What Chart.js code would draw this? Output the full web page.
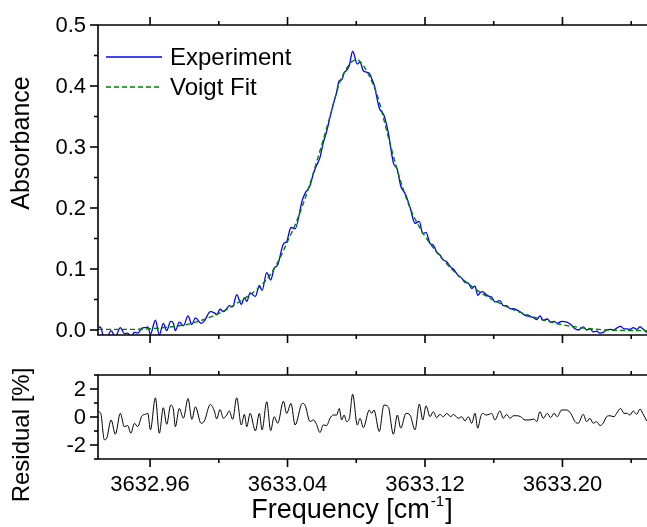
<!DOCTYPE html>
<html>
<head>
<meta charset="utf-8">
<script src="https://cdn.jsdelivr.net/npm/chart.js@4.4.0/dist/chart.umd.min.js"></script>
<style>
  html, body { margin: 0; padding: 0; background: #fff; overflow: hidden; }
  #wrap { position: relative; width: 647px; height: 527px; }
  #wrap canvas { position: absolute; left: 0; top: 0; }
</style>
</head>
<body>
<div id="wrap">
  <canvas id="chart-res" width="647" height="527"></canvas>
  <canvas id="chart-abs" width="647" height="527"></canvas>
</div>
<script>
// Absorption line + Voigt fit (top) and fit residual (bottom).

// ── Axis ranges / ticks ─────────────────────────────────────────────────────
const FREQ_MIN = 3632.9297;
const FREQ_MAX = 3633.2492;
const freqMajor = [3632.96, 3633.04, 3633.12, 3633.20];
const freqMinor = [3633.00, 3633.08, 3633.16, 3633.24];
const absMajor  = [0.0, 0.1, 0.2, 0.3, 0.4, 0.5];
const absMinor  = [0.05, 0.15, 0.25, 0.35, 0.45];
const resMajor  = [-2, 0, 2];
const resMinor  = [-3, -1, 1, 3];

// ── Voigt fit ───────────────────────────────────────────────────────────────
const fitFreq = [
  3632.9297, 3632.9484, 3632.9600, 3632.9716, 3632.9815, 3632.9891, 3632.9967, 3633.0036,
  3633.0083, 3633.0135, 3633.0182, 3633.0228, 3633.0263, 3633.0298, 3633.0333, 3633.0368,
  3633.0403, 3633.0444, 3633.0490, 3633.0531, 3633.0572, 3633.0607, 3633.0647, 3633.0676,
  3633.0705, 3633.0746, 3633.0775, 3633.0799, 3633.0822, 3633.0845, 3633.0880, 3633.0921,
  3633.0956, 3633.0996, 3633.1037, 3633.1072, 3633.1113, 3633.1171, 3633.1229, 3633.1305,
  3633.1404, 3633.1520, 3633.1654, 3633.1793, 3633.1945, 3633.2102, 3633.2259, 3633.2492
];
const fitAbs = [
  0.001, 0.001, 0.002, 0.005, 0.009, 0.015, 0.023, 0.032,
  0.040, 0.049, 0.058, 0.068, 0.078, 0.090, 0.106, 0.125,
  0.147, 0.172, 0.206, 0.240, 0.278, 0.311, 0.350, 0.380,
  0.407, 0.430, 0.440, 0.443, 0.440, 0.432, 0.414, 0.386,
  0.350, 0.306, 0.264, 0.232, 0.200, 0.167, 0.142, 0.115,
  0.087, 0.062, 0.041, 0.025, 0.012, 0.004, 0.000, -0.001
];

// ── Measured spectrum + residual (same frequency samples) ───────────────────
const sampleFreq = [
  3632.9302, 3632.9313, 3632.9334, 3632.9348, 3632.9373, 3632.9398, 3632.9427, 3632.9450, 3632.9470, 3632.9488,
  3632.9509, 3632.9528, 3632.9553, 3632.9573, 3632.9587, 3632.9602, 3632.9631, 3632.9654, 3632.9677, 3632.9697,
  3632.9720, 3632.9736, 3632.9747, 3632.9770, 3632.9794, 3632.9821, 3632.9843, 3632.9864, 3632.9897, 3632.9916,
  3632.9951, 3632.9974, 3632.9988, 3633.0007, 3633.0027, 3633.0046, 3633.0061, 3633.0081, 3633.0104, 3633.0131,
  3633.0149, 3633.0163, 3633.0182, 3633.0213, 3633.0236, 3633.0252, 3633.0279, 3633.0302, 3633.0322, 3633.0343,
  3633.0376, 3633.0395, 3633.0420, 3633.0444, 3633.0486, 3633.0502, 3633.0531, 3633.0550, 3633.0566, 3633.0589,
  3633.0608, 3633.0628, 3633.0647, 3633.0667, 3633.0686, 3633.0701, 3633.0715, 3633.0729, 3633.0744, 3633.0760,
  3633.0779, 3633.0806, 3633.0822, 3633.0841, 3633.0876, 3633.0890, 3633.0903, 3633.0934, 3633.0961, 3633.0986,
  3633.1016, 3633.1039, 3633.1059, 3633.1089, 3633.1113, 3633.1142, 3633.1167, 3633.1187, 3633.1206, 3633.1229,
  3633.1248, 3633.1268, 3633.1287, 3633.1307, 3633.1326, 3633.1350, 3633.1365, 3633.1394, 3633.1414, 3633.1433,
  3633.1452, 3633.1472, 3633.1491, 3633.1507, 3633.1524, 3633.1536, 3633.1555, 3633.1574, 3633.1588, 3633.1607,
  3633.1636, 3633.1656, 3633.1675, 3633.1695, 3633.1714, 3633.1734, 3633.1757, 3633.1782, 3633.1811, 3633.1834,
  3633.1850, 3633.1869, 3633.1888, 3633.1912, 3633.1931, 3633.1951, 3633.1970, 3633.1995, 3633.2025, 3633.2048,
  3633.2073, 3633.2092, 3633.2121, 3633.2141, 3633.2160, 3633.2179, 3633.2199, 3633.2218, 3633.2237, 3633.2257,
  3633.2276, 3633.2300, 3633.2315, 3633.2339, 3633.2358, 3633.2374, 3633.2393, 3633.2412, 3633.2432, 3633.2451,
  3633.2467, 3633.2490
];
const expAbs = [
  0.005, 0.004, -0.015, -0.014, -0.001, -0.011, 0.004, -0.006, -0.005, -0.011,
  -0.004, -0.005, 0.003, 0.004, 0.005, -0.007, 0.016, -0.008, 0.011, -0.001,
  0.014, 0.011, -0.001, 0.013, 0.007, 0.023, 0.009, 0.020, 0.011, 0.015,
  0.030, 0.028, 0.025, 0.034, 0.030, 0.035, 0.040, 0.038, 0.058, 0.042,
  0.053, 0.047, 0.061, 0.055, 0.073, 0.065, 0.094, 0.082, 0.101, 0.107,
  0.141, 0.145, 0.168, 0.166, 0.213, 0.224, 0.237, 0.256, 0.268, 0.283,
  0.307, 0.326, 0.349, 0.371, 0.390, 0.409, 0.410, 0.421, 0.426, 0.434,
  0.457, 0.436, 0.439, 0.425, 0.421, 0.412, 0.403, 0.364, 0.352, 0.324,
  0.274, 0.263, 0.236, 0.221, 0.201, 0.175, 0.178, 0.158, 0.160, 0.142,
  0.139, 0.128, 0.123, 0.115, 0.112, 0.103, 0.100, 0.089, 0.085, 0.078,
  0.077, 0.068, 0.072, 0.057, 0.062, 0.063, 0.058, 0.055, 0.054, 0.046,
  0.048, 0.040, 0.040, 0.035, 0.035, 0.033, 0.029, 0.024, 0.022, 0.020,
  0.017, 0.023, 0.016, 0.018, 0.013, 0.014, 0.011, 0.014, 0.013, 0.009,
  0.002, 0.000, 0.005, 0.000, 0.002, -0.003, -0.002, -0.005, -0.004, 0.000,
  0.001, 0.000, 0.003, 0.006, 0.002, 0.002, 0.001, 0.004, 0.001, 0.005,
  0.002, -0.004
];
const residual = [
  0.38, 0.26, -1.63, -1.51, -0.21, -1.23, 0.26, -0.69, -0.61, -1.16,
  -0.45, -0.69, 0.09, 0.19, 0.26, -0.92, 1.37, -1.16, 0.66, -0.52,
  0.85, 0.50, -0.69, 0.61, -0.09, 1.32, -0.17, 0.73, -0.45, -0.28,
  0.90, 0.43, -0.14, 0.54, -0.09, 0.14, 0.43, -0.17, 1.37, -0.57,
  0.19, -0.69, 0.26, -0.99, 0.26, -0.92, 1.09, -0.97, 0.02, -0.45,
  1.13, 0.26, 0.97, -0.57, 0.97, 0.85, -0.33, -0.21, -0.45, -1.11,
  -0.57, -0.61, -0.09, 0.14, 0.14, 0.61, -0.21, 0.14, -0.33, -0.09,
  1.63, -0.57, -0.09, -0.76, 0.50, 0.26, 0.50, -1.04, 0.85, 0.73,
  -1.23, 0.14, -0.80, 0.26, 0.14, -0.92, 0.92, -0.21, 0.80, 0.02,
  0.38, -0.05, 0.19, 0.02, 0.26, 0.02, 0.19, -0.09, 0.02, -0.28,
  0.02, -0.45, 0.26, -0.80, 0.02, 0.26, 0.14, 0.19, 0.26, -0.21,
  0.43, -0.09, 0.19, -0.09, 0.09, 0.09, 0.02, -0.21, -0.21, -0.14,
  -0.33, 0.38, -0.09, 0.26, -0.05, 0.26, 0.02, 0.50, 0.50, 0.26,
  -0.33, -0.45, 0.19, -0.33, -0.09, -0.45, -0.33, -0.61, -0.45, 0.02,
  0.09, 0.02, 0.26, 0.61, 0.26, 0.26, 0.14, 0.43, 0.19, 0.57,
  0.26, -0.28
];

const FONT = '"Liberation Sans", Arial, Helvetica, sans-serif';
const toXY = (xs, ys) => xs.map((x, i) => ({ x, y: ys[i] }));

// ── Frame, ticks, labels and legend drawn from the chart's own scales ───────
const framePlugin = {
  id: 'frame',
  afterDraw(chart, args, o) {
    const { ctx, chartArea: a } = chart;
    const xs = chart.scales.x, ys = chart.scales.y;
    ctx.save();
    ctx.strokeStyle = '#000';
    ctx.lineWidth = 1.6;
    const seg = (x1, y1, x2, y2) => { ctx.beginPath(); ctx.moveTo(x1, y1); ctx.lineTo(x2, y2); ctx.stroke(); };

    seg(a.left - 0.8, a.top, a.right, a.top);
    seg(a.left - 0.8, a.bottom, a.right, a.bottom);
    seg(a.left, a.top, a.left, a.bottom);

    const xTicks = (vals, len) => vals.forEach(v => {
      const px = xs.getPixelForValue(v);
      seg(px, a.top, px, a.top - len);
      seg(px, a.bottom, px, a.bottom + len);
    });
    xTicks(freqMajor, 8);
    xTicks(freqMinor, 4);
    o.yMajor.forEach(v => { const py = ys.getPixelForValue(v); seg(a.left, py, a.left - 8, py); });
    o.yMinor.forEach(v => { const py = ys.getPixelForValue(v); seg(a.left, py, a.left - 4, py); });

    ctx.fillStyle = '#000';
    ctx.font = '22px ' + FONT;
    ctx.textAlign = 'right';
    ctx.textBaseline = 'middle';
    o.yMajor.forEach(v => ctx.fillText(o.yFmt(v), a.left - 12, ys.getPixelForValue(v) + 1));

    if (o.xLabels) {
      ctx.textAlign = 'center';
      freqMajor.forEach(v => ctx.fillText(v.toFixed(2), xs.getPixelForValue(v), a.bottom + 26));

      // x title with superscript
      const main = 'Frequency [cm', sup = '-1', tail = ']';
      ctx.font = '27px ' + FONT;
      const w1 = ctx.measureText(main).width, w3 = ctx.measureText(tail).width;
      ctx.font = '15px ' + FONT;
      const w2 = ctx.measureText(sup).width;
      const x0 = 352 - (w1 + w2 + w3 + 2) / 2;
      ctx.textAlign = 'left';
      ctx.textBaseline = 'alphabetic';
      ctx.font = '27px ' + FONT;
      ctx.fillText(main, x0, 518);
      ctx.font = '15px ' + FONT;
      ctx.fillText(sup, x0 + w1 + 1, 506);
      ctx.font = '27px ' + FONT;
      ctx.fillText(tail, x0 + w1 + w2 + 2, 518);
    }

    // rotated y title
    ctx.save();
    ctx.translate(o.titleX, o.titleY);
    ctx.rotate(-Math.PI / 2);
    ctx.textAlign = 'center';
    ctx.textBaseline = 'middle';
    ctx.font = o.titleSize + 'px ' + FONT;
    ctx.fillText(o.title, 0, 0);
    ctx.restore();

    if (o.legend) {
      ctx.font = '24px ' + FONT;
      ctx.textAlign = 'left';
      ctx.textBaseline = 'middle';
      let ly = 57;
      o.legend.forEach(idx => {
        const ds = chart.data.datasets[idx];
        ctx.strokeStyle = ds.borderColor;
        ctx.lineWidth = ds.borderWidth;
        ctx.setLineDash(ds.borderDash || []);
        seg(106, ly, 162, ly);
        ctx.setLineDash([]);
        ctx.fillText(ds.label, 170, ly + 1);
        ly += 30;
      });
    }
    ctx.restore();
  }
};

// ── Top: absorbance ─────────────────────────────────────────────────────────
new Chart(document.getElementById('chart-abs'), {
  type: 'line',
  data: {
    datasets: [
      {
        label: 'Voigt Fit',
        data: toXY(fitFreq, fitAbs),
        borderColor: '#008000',
        borderWidth: 1.4,
        borderDash: [5, 3],
        pointRadius: 0,
        cubicInterpolationMode: 'monotone',
        order: 0
      },
      {
        label: 'Experiment',
        data: toXY(sampleFreq, expAbs),
        borderColor: '#0000ff',
        borderWidth: 1.3,
        pointRadius: 0,
        cubicInterpolationMode: 'monotone',
        order: 1
      }
    ]
  },
  options: {
    responsive: false,
    animation: false,
    devicePixelRatio: 1,
    layout: { padding: { left: 98, right: 0, top: 25, bottom: 192 } },
    scales: {
      x: { type: 'linear', min: FREQ_MIN, max: FREQ_MAX, display: false },
      y: { type: 'linear', min: -0.0082, max: 0.5, display: false }
    },
    plugins: {
      legend: { display: false },
      tooltip: { enabled: false },
      frame: {
        yMajor: absMajor, yMinor: absMinor, yFmt: v => v.toFixed(1),
        xLabels: false, title: 'Absorbance', titleSize: 25, titleX: 22, titleY: 143,
        legend: [1, 0]
      }
    }
  },
  plugins: [framePlugin]
});

// ── Bottom: residual ────────────────────────────────────────────────────────
new Chart(document.getElementById('chart-res'), {
  type: 'line',
  data: {
    datasets: [{
      label: 'Residual',
      data: toXY(sampleFreq, residual),
      borderColor: '#000',
      borderWidth: 1,
      pointRadius: 0,
      cubicInterpolationMode: 'monotone'
    }]
  },
  options: {
    responsive: false,
    animation: false,
    devicePixelRatio: 1,
    layout: { padding: { left: 98, right: 0, top: 375, bottom: 68 } },
    scales: {
      x: { type: 'linear', min: FREQ_MIN, max: FREQ_MAX, display: false },
      y: { type: 'linear', min: -3, max: 3, display: false }
    },
    plugins: {
      legend: { display: false },
      tooltip: { enabled: false },
      frame: {
        yMajor: resMajor, yMinor: resMinor, yFmt: v => String(v),
        xLabels: true, title: 'Residual [%]', titleSize: 24, titleX: 22, titleY: 435
      }
    }
  },
  plugins: [framePlugin]
});
</script>
</body>
</html>
